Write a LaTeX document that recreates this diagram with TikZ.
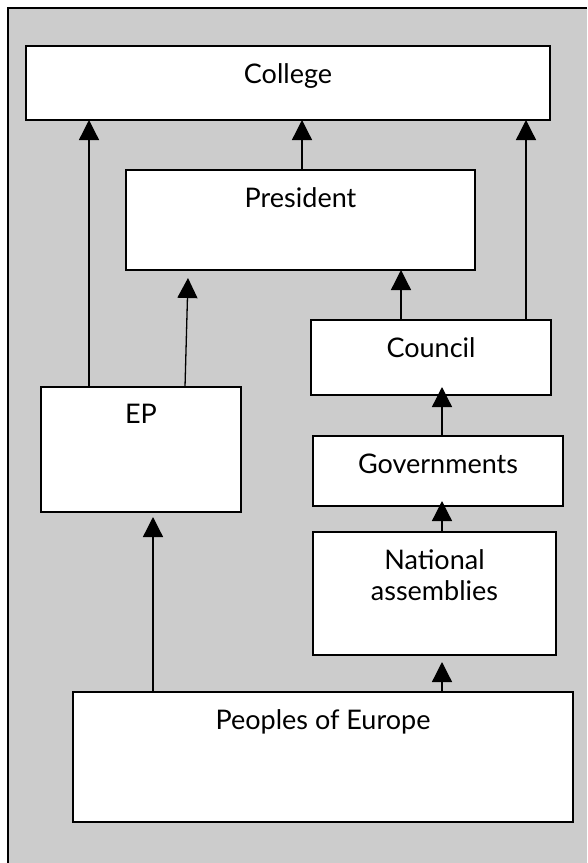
\documentclass[tikz,border=0pt]{standalone}
\usepackage{fontspec}
\setmainfont{Lato}
\usetikzlibrary{arrows.meta,calc}
\definecolor{bggray}{RGB}{204,204,204}
\begin{document}
\begin{tikzpicture}[x=1pt,y=-1pt,
  box/.style={draw=black, fill=white, line width=1.8pt, rectangle, inner sep=0pt, outer sep=0pt},
  lbl/.style={font=\fontsize{27}{31}\selectfont, inner sep=0pt, anchor=base, align=center},
  arr/.style={line width=1.3pt, -{Triangle[length=20pt,width=20pt]}}]
\useasboundingbox (0,0) rectangle (587,863);
\fill[white] (0,0) rectangle (587,863);
\fill[bggray] (8,8) rectangle (587,863);
\draw[line width=2pt] (8,863) -- (8,8) -- (587,8);

\node[box, minimum width=524pt, minimum height=74pt] (college) at (288,83) {};
\node[box, minimum width=349pt, minimum height=100pt] (president) at (300.5,220) {};
\node[box, minimum width=240pt, minimum height=75pt] (council) at (431,357.5) {};
\node[box, minimum width=250pt, minimum height=70pt] (governments) at (438,471) {};
\node[box, minimum width=243pt, minimum height=123pt] (national) at (434.5,593.5) {};
\node[box, minimum width=200pt, minimum height=125pt] (ep) at (141,449.5) {};
\node[box, minimum width=500pt, minimum height=130pt] (peoples) at (323,757) {};

\node[lbl] (collegeT) at ($(college.north)+(0,37)$) {College};
\node[lbl] (presidentT) at ($(president.north)+(0,37)$) {President};
\node[lbl] (councilT) at ($(council.north)+(0,37)$) {Council};
\node[lbl] (governmentsT) at ($(governments.north)+(0,37)$) {Governments};
\node[lbl] (nationalT) at ($(national.north)+(0,68)$) {National\\assemblies};
\node[lbl] (epT) at ($(ep.north)+(0,36)$) {EP};
\node[lbl] (peoplesT) at ($(peoples.north)+(0,37)$) {Peoples of Europe};

\coordinate (a1) at (89,0);
\coordinate (a2b) at (185,0);
\coordinate (a2t) at (188,0);
\coordinate (a3) at (153,0);
\coordinate (a4) at (302,0);
\coordinate (a5) at (401,0);
\coordinate (a6) at (526,0);
\coordinate (a7) at (442,0);

\draw[arr] (ep.north -| a1) -- (college.south -| a1);
\draw[arr] (ep.north -| a2b) -- ($(president.south -| a2t)+(0,8)$);
\draw[arr] (peoples.north -| a3) -- ($(ep.south -| a3)+(0,5)$);
\draw[arr] (president.north -| a4) -- (college.south -| a4);
\draw[arr] (council.north -| a5) -- (president.south -| a5);
\draw[arr] (council.north -| a6) -- (college.south -| a6);
\draw[arr] (governments.north -| a7) -- ($(council.south -| a7)+(0,-8)$);
\draw[arr] (national.north -| a7) -- ($(governments.south -| a7)+(0,-5)$);
\draw[arr] (peoples.north -| a7) -- ($(national.south -| a7)+(0,7)$);
\end{tikzpicture}
\end{document}
